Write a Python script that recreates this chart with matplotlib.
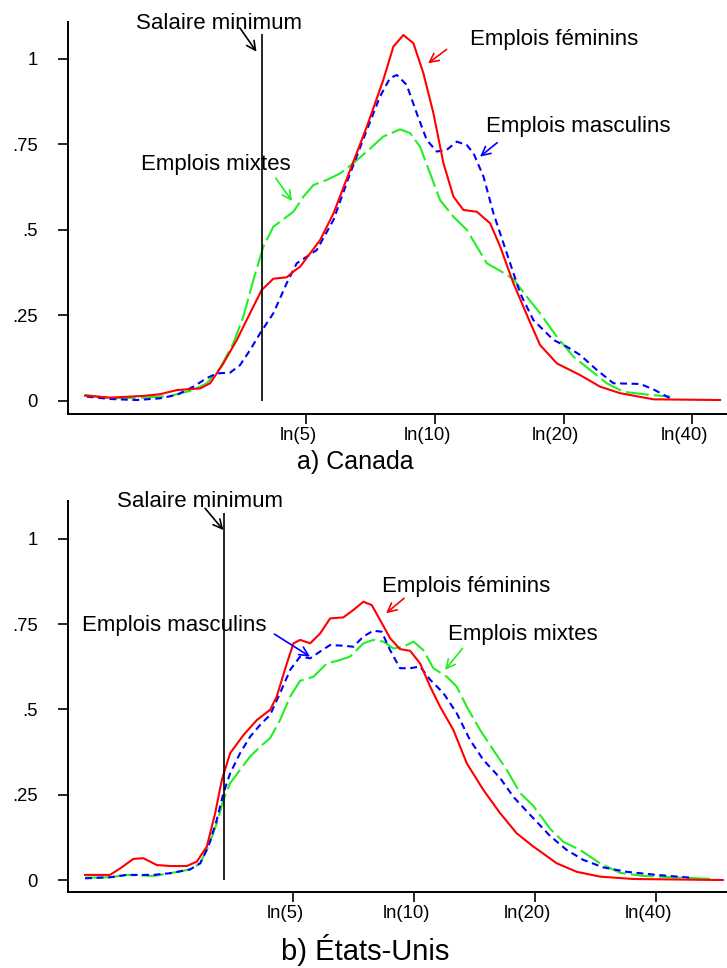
import numpy as np
import matplotlib
matplotlib.use("Agg")
import matplotlib.pyplot as plt
from matplotlib.transforms import ScaledTranslation

plt.rcParams['font.family'] = ['Liberation Sans', 'DejaVu Sans']

# ---------- a) Canada : ln(salaire) et densité ----------
ca_fem_x = [0.415, 0.550, 0.730, 0.820, 0.910, 1.036, 1.090, 1.161, 1.234, 1.305, 1.368, 1.431,
            1.503, 1.539, 1.575, 1.629, 1.683, 1.755, 1.845, 1.935, 2.024, 2.078, 2.132, 2.186,
            2.240, 2.294, 2.348, 2.402, 2.456, 2.528, 2.600, 2.654, 2.725, 2.798, 2.869, 2.960,
            3.085, 3.193, 3.301, 3.481, 3.840]
ca_fem_y = [0.015, 0.009, 0.014, 0.019, 0.031, 0.036, 0.051, 0.109, 0.178, 0.256, 0.324, 0.357,
            0.361, 0.378, 0.392, 0.431, 0.470, 0.548, 0.675, 0.802, 0.939, 1.036, 1.070, 1.046,
            0.958, 0.841, 0.695, 0.597, 0.558, 0.553, 0.519, 0.451, 0.344, 0.251, 0.163, 0.109,
            0.075, 0.041, 0.022, 0.004, 0.002]

ca_mas_x = [0.424, 0.550, 0.694, 0.820, 0.910, 0.999, 1.072, 1.126, 1.197, 1.251, 1.305, 1.359,
            1.431, 1.503, 1.557, 1.665, 1.755, 1.845, 1.935, 2.006, 2.060, 2.097, 2.150, 2.204,
            2.258, 2.312, 2.366, 2.420, 2.474, 2.510, 2.564, 2.618, 2.690, 2.762, 2.833, 2.941,
            3.013, 3.085, 3.175, 3.265, 3.409, 3.481, 3.571]
ca_mas_y = [0.012, 0.005, 0.002, 0.007, 0.017, 0.041, 0.066, 0.080, 0.082, 0.104, 0.148, 0.197,
            0.256, 0.344, 0.402, 0.441, 0.529, 0.665, 0.792, 0.890, 0.944, 0.953, 0.924, 0.841,
            0.763, 0.729, 0.734, 0.758, 0.748, 0.724, 0.656, 0.548, 0.431, 0.314, 0.236, 0.178,
            0.158, 0.134, 0.090, 0.051, 0.049, 0.033, 0.007]

ca_mix_x = [0.415, 0.550, 0.730, 0.874, 0.999, 1.072, 1.143, 1.215, 1.269, 1.323, 1.377, 1.431,
            1.485, 1.539, 1.593, 1.647, 1.719, 1.791, 1.862, 1.935, 2.024, 2.114, 2.168, 2.222,
            2.276, 2.330, 2.402, 2.474, 2.528, 2.582, 2.654, 2.725, 2.798, 2.869, 2.960, 3.049,
            3.139, 3.229, 3.319, 3.463, 3.571]
ca_mix_y = [0.017, 0.007, 0.009, 0.014, 0.031, 0.051, 0.095, 0.168, 0.246, 0.353, 0.451, 0.509,
            0.531, 0.553, 0.597, 0.631, 0.646, 0.665, 0.695, 0.729, 0.773, 0.794, 0.783, 0.743,
            0.665, 0.587, 0.538, 0.500, 0.451, 0.402, 0.380, 0.356, 0.304, 0.256, 0.187, 0.129,
            0.090, 0.051, 0.026, 0.017, 0.012]

# ---------- b) États-Unis ----------
us_fem_x = [0.415, 0.558, 0.616, 0.692, 0.749, 0.826, 0.903, 0.998, 1.056, 1.113, 1.161, 1.199,
            1.247, 1.323, 1.400, 1.476, 1.514, 1.572, 1.610, 1.648, 1.706, 1.763, 1.820, 1.896,
            1.954, 2.011, 2.059, 2.107, 2.164, 2.221, 2.279, 2.336, 2.394, 2.451, 2.527, 2.604,
            2.699, 2.795, 2.890, 2.986, 3.120, 3.235, 3.368, 3.559, 4.072]
us_fem_y = [0.015, 0.015, 0.034, 0.062, 0.064, 0.044, 0.041, 0.041, 0.054, 0.098, 0.196, 0.293,
            0.372, 0.425, 0.469, 0.499, 0.538, 0.635, 0.694, 0.704, 0.694, 0.723, 0.767, 0.770,
            0.792, 0.816, 0.806, 0.762, 0.709, 0.677, 0.672, 0.635, 0.567, 0.508, 0.440, 0.342,
            0.264, 0.196, 0.137, 0.098, 0.049, 0.024, 0.010, 0.003, 0.000]

us_mas_x = [0.415, 0.558, 0.654, 0.807, 0.903, 1.017, 1.075, 1.122, 1.170, 1.208, 1.247, 1.304,
            1.361, 1.419, 1.476, 1.533, 1.591, 1.648, 1.706, 1.763, 1.820, 1.896, 1.954, 2.011,
            2.068, 2.116, 2.164, 2.221, 2.279, 2.336, 2.394, 2.470, 2.546, 2.622, 2.699, 2.795,
            2.871, 2.967, 3.082, 3.177, 3.272, 3.387, 3.521, 3.693, 3.884]
us_mas_y = [0.005, 0.008, 0.015, 0.015, 0.020, 0.031, 0.049, 0.098, 0.176, 0.254, 0.313, 0.372,
            0.420, 0.455, 0.484, 0.548, 0.616, 0.655, 0.650, 0.670, 0.689, 0.687, 0.684, 0.714,
            0.731, 0.728, 0.674, 0.621, 0.621, 0.626, 0.587, 0.548, 0.489, 0.411, 0.352, 0.299,
            0.244, 0.191, 0.129, 0.088, 0.059, 0.037, 0.024, 0.015, 0.007]

us_mix_x = [0.415, 0.558, 0.654, 0.807, 0.903, 1.017, 1.075, 1.122, 1.170, 1.208, 1.247, 1.304,
            1.361, 1.419, 1.476, 1.533, 1.591, 1.648, 1.724, 1.801, 1.877, 1.934, 2.011, 2.068,
            2.126, 2.183, 2.240, 2.298, 2.355, 2.412, 2.489, 2.546, 2.604, 2.680, 2.756, 2.833,
            2.910, 2.986, 3.082, 3.158, 3.254, 3.368, 3.483, 3.616, 3.788, 4.018]
us_mix_y = [0.007, 0.008, 0.015, 0.012, 0.020, 0.031, 0.049, 0.098, 0.166, 0.235, 0.284, 0.323,
            0.362, 0.391, 0.416, 0.469, 0.538, 0.584, 0.596, 0.635, 0.645, 0.655, 0.694, 0.704,
            0.699, 0.679, 0.684, 0.699, 0.674, 0.621, 0.596, 0.567, 0.508, 0.440, 0.381, 0.323,
            0.255, 0.217, 0.150, 0.112, 0.088, 0.049, 0.021, 0.012, 0.008, 0.003]

min_wage = {"ca": 1.370, "us": 1.214}   # ln(salaire minimum)
wage_ticks = [5, 10, 20, 40]
dens_ticks = [0, 0.25, 0.5, 0.75, 1]
dens_labels = ["0", ".25", ".5", ".75", "1"]

RED, BLUE, GREEN = "#ff0000", "#0000ff", "#22ee22"

fig = plt.figure(figsize=(7.27, 9.68), dpi=100)
ax1 = fig.add_axes([0.0942, 0.572, 0.906, 0.4056])
ax2 = fig.add_axes([0.0940, 0.0782, 0.906, 0.4045])


def style_axes(ax, xlim, ylim):
    ax.set_xlim(*xlim)
    ax.set_ylim(*ylim)
    for s in ["top", "right"]:
        ax.spines[s].set_visible(False)
    for s in ["left", "bottom"]:
        ax.spines[s].set_linewidth(1.4)
    ax.set_xticks(np.log(wage_ticks))
    ax.set_xticklabels([f"ln({w})" for w in wage_ticks], fontsize=13.3)
    ax.set_yticks(dens_ticks)
    ax.set_yticklabels(dens_labels, fontsize=13.3)
    ax.tick_params(axis="x", length=7, width=1.2, pad=2)
    ax.tick_params(axis="y", length=7, width=1.2, pad=15)
    shift = ScaledTranslation(-8 / 100, 0, fig.dpi_scale_trans)
    for lab in ax.get_xticklabels():
        lab.set_transform(lab.get_transform() + shift)


def draw_curves(ax, fem, mas, mix):
    ax.plot(*mix, color=GREEN, lw=1.5, dashes=[11, 2.5])
    ax.plot(*mas, color=BLUE, lw=1.5, dashes=[3.3, 2.2])
    ax.plot(*fem, color=RED, lw=1.5)


def note(ax, text, xy_text, tail, tip, color):
    ax.text(*xy_text, text, fontsize=16, ha="center", va="center")
    ax.annotate("", xy=tip, xytext=tail,
                arrowprops=dict(arrowstyle="->", color=color, lw=1.2,
                                mutation_scale=16, shrinkA=0, shrinkB=0))


# a) Canada
draw_curves(ax1, (ca_fem_x, ca_fem_y), (ca_mas_x, ca_mas_y), (ca_mix_x, ca_mix_y))
ax1.vlines(min_wage["ca"], 0, 1.072, color="black", lw=1.2)
style_axes(ax1, (0.326, 3.878), (-0.0398, 1.109))
note(ax1, "Salaire minimum", (1.138, 1.105), (1.250, 1.091), (1.340, 1.021), "black")
note(ax1, "Emplois féminins", (2.945, 1.056), (2.365, 1.028), (2.265, 0.987), RED)
note(ax1, "Emplois masculins", (3.074, 0.802), (2.638, 0.755), (2.545, 0.714), BLUE)
note(ax1, "Emplois mixtes", (1.122, 0.692), (1.444, 0.651), (1.532, 0.584), GREEN)

# b) États-Unis
draw_curves(ax2, (us_fem_x, us_fem_y), (us_mas_x, us_mas_y), (us_mix_x, us_mix_y))
ax2.vlines(min_wage["us"], 0, 1.075, color="black", lw=1.2)
style_axes(ax2, (0.319, 4.096), (-0.036, 1.112))
note(ax2, "Salaire minimum", (1.073, 1.109), (1.103, 1.090), (1.208, 1.026), "black")
note(ax2, "Emplois masculins", (0.924, 0.746), (1.501, 0.721), (1.705, 0.655), BLUE)
note(ax2, "Emplois féminins", (2.600, 0.862), (2.244, 0.826), (2.141, 0.782), RED)
note(ax2, "Emplois mixtes", (2.927, 0.721), (2.579, 0.679), (2.479, 0.616), GREEN)

fig.text(355 / 727, 1 - 462 / 968, "a) Canada", fontsize=18, ha="center", va="center")
fig.text(365 / 727, 1 - 950 / 968, "b) États-Unis", fontsize=21, ha="center", va="center")

fig.savefig("out.png", dpi=100)
